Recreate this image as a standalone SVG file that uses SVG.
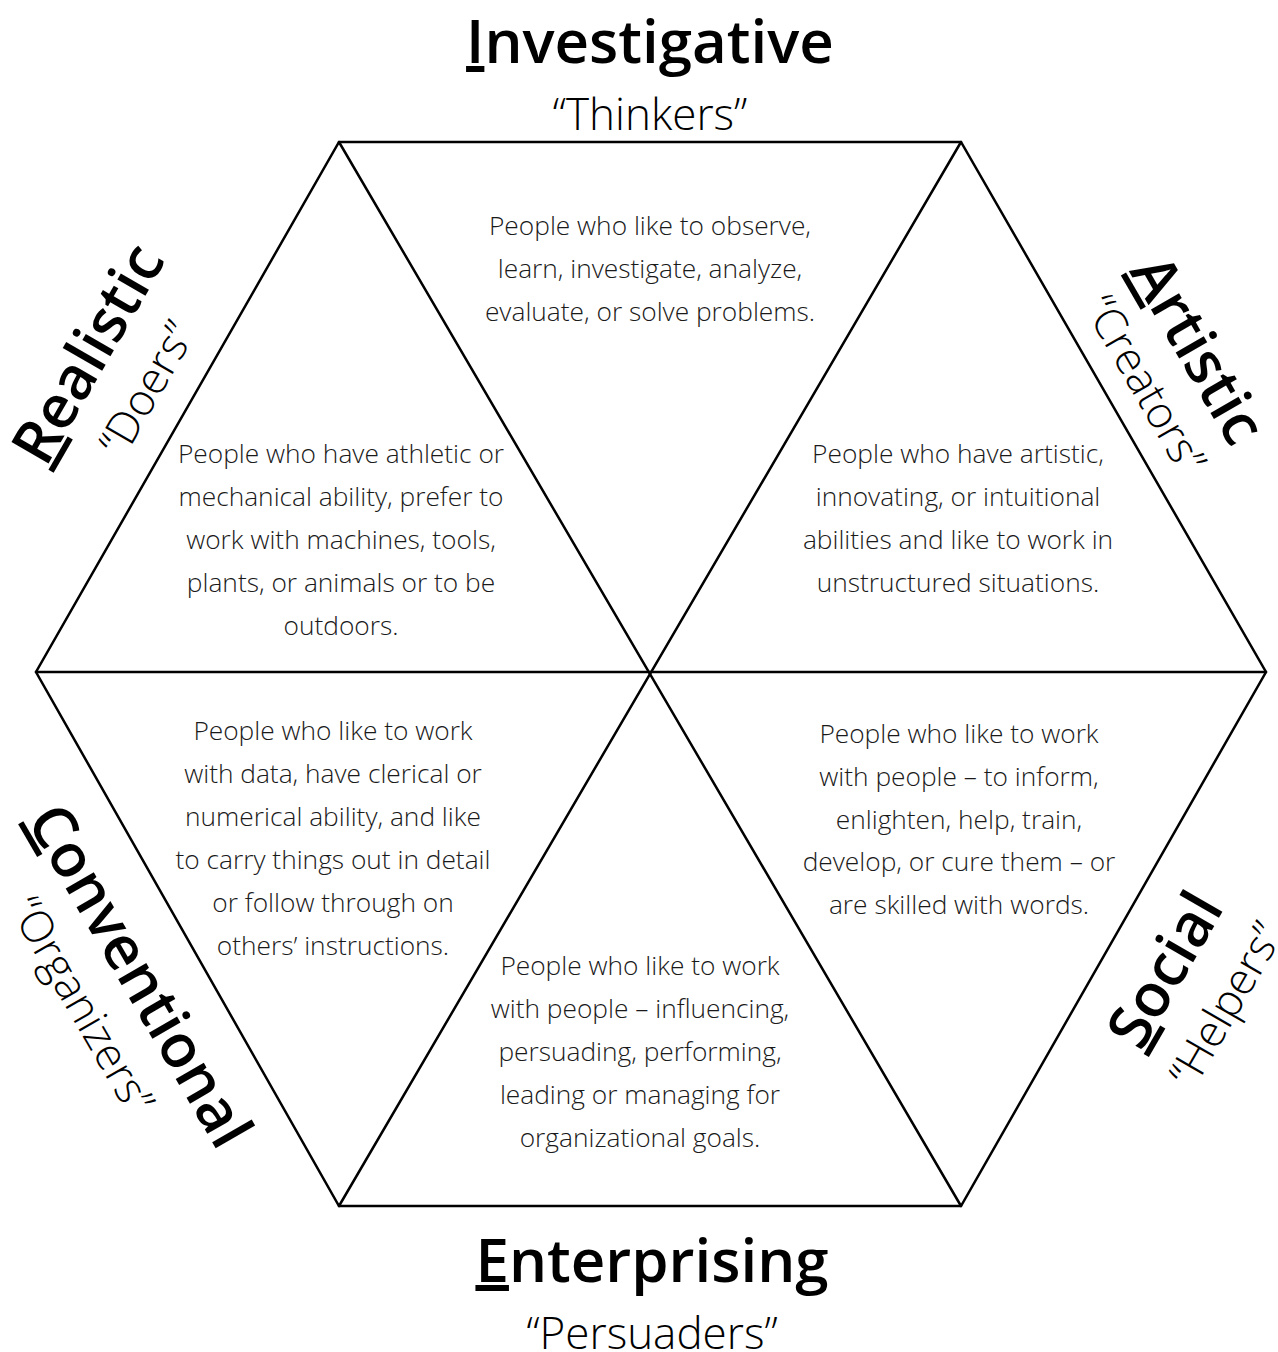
<svg xmlns="http://www.w3.org/2000/svg" width="1278" height="1352" viewBox="0 0 1278 1352">
<style>
.edge{stroke:#000;stroke-width:2.5;fill:none;stroke-linecap:round}
.title{font-family:"Open Sans","Noto Sans","Liberation Sans",sans-serif;font-weight:600;font-size:60px;fill:#000;text-anchor:middle}
.sub{font-family:"Open Sans","Noto Sans","Liberation Sans",sans-serif;font-weight:300;font-size:44px;fill:#000;text-anchor:middle}
.body{font-family:"Open Sans","Noto Sans","Liberation Sans",sans-serif;font-weight:300;font-size:26.3px;fill:#1a1a1a;text-anchor:middle}
.u{text-decoration:underline;text-decoration-thickness:4px;text-underline-offset:7px}
</style>
<rect width="1278" height="1352" fill="#fff"/>
<g id="connectors">
<polygon class="edge" points="339,142 961,142 1266,672 961,1206 339,1206 36,672"/>
<line class="edge" x1="36" y1="672" x2="1266" y2="672"/>
<line class="edge" x1="339" y1="142" x2="961" y2="1206"/>
<line class="edge" x1="961" y1="142" x2="339" y2="1206"/>
</g>
<g id="investigative">
<text class="title" x="650" y="63"><tspan class="u">I</tspan>nvestigative</text>
<text class="sub" x="650" y="130">“Thinkers”</text>
<text class="body"><tspan x="650" y="235">People who like to observe,</tspan><tspan x="650" y="278">learn, investigate, analyze,</tspan><tspan x="650" y="321">evaluate, or solve problems.</tspan></text>
</g>
<g id="realistic">
<text class="title" transform="translate(106,364) rotate(-60)"><tspan class="u">R</tspan>ealistic</text>
<text class="sub" transform="translate(160,396) rotate(-60)">“Doers”</text>
<text class="body"><tspan x="341" y="463">People who have athletic or</tspan><tspan x="341" y="506">mechanical ability, prefer to</tspan><tspan x="341" y="549">work with machines, tools,</tspan><tspan x="341" y="592">plants, or animals or to be</tspan><tspan x="341" y="635">outdoors.</tspan></text>
</g>
<g id="artistic">
<text class="title" transform="translate(1180,360) rotate(60)"><tspan class="u">A</tspan>rtistic</text>
<text class="sub" transform="translate(1132,392) rotate(60)">“Creators”</text>
<text class="body"><tspan x="958" y="463">People who have artistic,</tspan><tspan x="958" y="506">innovating, or intuitional</tspan><tspan x="958" y="549">abilities and like to work in</tspan><tspan x="958" y="592">unstructured situations.</tspan></text>
</g>
<g id="conventional">
<text class="title" transform="translate(122,986) rotate(60)"><tspan class="u">C</tspan>onventional</text>
<text class="sub" transform="translate(69,1013) rotate(60)">“Organizers”</text>
<text class="body"><tspan x="333" y="740">People who like to work</tspan><tspan x="333" y="783">with data, have clerical or</tspan><tspan x="333" y="826">numerical ability, and like</tspan><tspan x="333" y="869">to carry things out in detail</tspan><tspan x="333" y="912">or follow through on</tspan><tspan x="333" y="955">others’ instructions.</tspan></text>
</g>
<g id="social">
<text class="title" transform="translate(1183,980) rotate(-60)"><tspan class="u">S</tspan>ocial</text>
<text class="sub" transform="translate(1239,1012) rotate(-60)">“Helpers”</text>
<text class="body"><tspan x="959" y="743">People who like to work</tspan><tspan x="959" y="786">with people – to inform,</tspan><tspan x="959" y="829">enlighten, help, train,</tspan><tspan x="959" y="871">develop, or cure them – or</tspan><tspan x="959" y="914">are skilled with words.</tspan></text>
</g>
<g id="enterprising">
<text class="title" x="652" y="1282"><tspan class="u">E</tspan>nterprising</text>
<text class="sub" x="652" y="1349">“Persuaders”</text>
<text class="body"><tspan x="640" y="975">People who like to work</tspan><tspan x="640" y="1018">with people – influencing,</tspan><tspan x="640" y="1061">persuading, performing,</tspan><tspan x="640" y="1104">leading or managing for</tspan><tspan x="640" y="1147">organizational goals.</tspan></text>
</g>
</svg>
